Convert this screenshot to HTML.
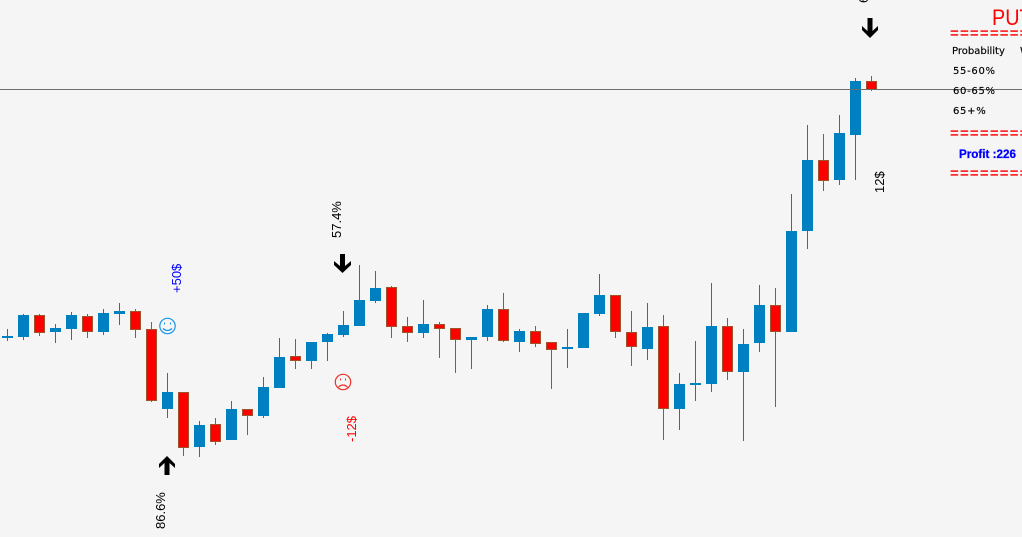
<!DOCTYPE html>
<html>
<head>
<meta charset="utf-8">
<title>Candlestick chart</title>
<style>
html,body{margin:0;padding:0;background:#f5f5f5;width:1022px;height:537px;overflow:hidden}
svg{display:block}
text{font-family:"Liberation Sans",sans-serif}
.vert{font-size:13px;fill:#000}
.small{font-family:"DejaVu Sans","Liberation Sans",sans-serif;font-size:10px;fill:#000;stroke:#000;stroke-width:.15px}
.sep{font-size:15px;fill:#f00;stroke:#f00;stroke-width:.3px;letter-spacing:1.2px}
</style>
</head>
<body>
<svg id="chart" width="1022" height="537" viewBox="0 0 1022 537" xmlns="http://www.w3.org/2000/svg">
  <rect width="1022" height="537" fill="#f5f5f5"/>
  <g id="candles"></g>
  <rect id="price-line" x="0" width="1022" height="1" fill="#6e6e6e"/>

  <text transform="translate(992 25) scale(.9 1)" font-size="22" fill="#f00">PUT</text>
  <text class="sep" x="950" y="38">=========</text>
  <text class="small" x="952" y="54">Probability</text>
  <text class="small" x="1020" y="54">W</text>
  <text class="small" x="953" y="74" letter-spacing=".7">55-60%</text>
  <text class="small" x="953" y="94" letter-spacing=".7">60-65%</text>
  <text class="small" x="953" y="114" letter-spacing=".7">65+%</text>
  <text class="sep" x="950" y="138">=========</text>
  <text x="959" y="158" font-size="12" font-weight="700" fill="#00f" stroke="#00f" stroke-width=".3" textLength="57" lengthAdjust="spacingAndGlyphs">Profit :226</text>
  <text class="sep" x="950" y="178">=========</text>

  <text class="vert" transform="translate(165 529) rotate(-90)">86.6%</text>
  <text class="vert" transform="translate(341 238) rotate(-90)">57.4%</text>
  <text class="vert" transform="translate(868 3) rotate(-90)">62.6%</text>
  <text class="vert" style="fill:#00f" transform="translate(181 293) rotate(-90)">+50$</text>
  <text class="vert" style="fill:#f00" transform="translate(356 442) rotate(-90)">-12$</text>
  <text class="vert" transform="translate(884 193) rotate(-90)">12$</text>

  <polygon fill="#000" points="167,456 175,464 175,468 169.5,463 169.5,475 164.5,475 164.5,463 159,468 159,464"/>
  <polygon fill="#000" points="342.5,273 351,265 351,261 345,266 345,254 340,254 340,266 334,261 334,265"/>
  <polygon fill="#000" points="870,38 878,30 878,26 872.5,31 872.5,18 867.5,18 867.5,31 862,26 862,30"/>

  <g fill="none" stroke="#1496e6" stroke-width="1.2">
    <circle cx="167.500" cy="326" r="7.7"/>
    <path d="M163 328.500q4.500 4 9 0"/>
    <rect x="164" y="322.500" width="1" height="2" fill="#1496e6" stroke="none"/>
    <rect x="170" y="322.500" width="1" height="2" fill="#1496e6" stroke="none"/>
  </g>
  <g fill="none" stroke="#f0302a" stroke-width="1.2">
    <circle cx="343" cy="382" r="7.7"/>
    <path d="M338.500 387q4.500 -4 9 0"/>
    <rect x="340" y="378.500" width="1" height="2" fill="#f0302a" stroke="none"/>
    <rect x="345" y="378.500" width="1" height="2" fill="#f0302a" stroke="none"/>
  </g>
</svg>
<script>
var opens = [119.9,120.0,122.2,120.5,120.8,122.1,120.5,122.3,122.6,120.8,112.8,114.5,109.0,111.3,109.7,112.8,112.1,114.9,118.1,117.6,119.5,120.2,121.1,123.6,125.0,121.1,120.4,121.3,120.9,119.7,120.0,122.8,119.5,120.6,119.5,118.8,118.9,122.3,124.2,120.5,118.8,121.1,112.8,115.2,115.3,121.1,116.5,119.4,123.2,120.5,130.6,137.7,135.7,140.2,145.6];
var highs = [120.8,122.3,122.3,121.3,122.5,122.3,122.8,123.4,122.8,121.5,116.4,114.5,111.6,111.9,113.6,112.8,116.0,119.9,119.8,119.5,120.4,122.6,127.2,126.6,125.1,122.0,123.7,121.5,120.9,120.0,123.2,124.4,120.8,121.1,119.5,120.8,122.4,126.3,124.2,122.6,123.4,122.2,116.4,119.6,125.4,121.9,120.8,125.2,124.9,134.3,141.2,140.3,142.2,145.9,146.1];
var lows = [119.6,119.7,120.1,119.4,119.7,119.9,120.2,121.2,119.9,113.5,111.9,108.1,108.0,109.2,109.7,110.2,111.9,114.9,116.8,116.8,117.6,120.0,121.1,123.4,119.9,119.5,119.9,117.9,116.4,116.8,119.6,119.5,118.5,119.0,114.8,116.9,118.9,122.1,119.9,117.1,117.7,109.7,110.7,113.6,114.5,115.7,109.6,118.5,113.0,120.5,128.8,134.6,135.2,135.7,144.6];
var closes = [120.1,122.2,120.4,120.9,122.2,120.5,122.4,122.6,120.7,113.6,114.5,108.9,111.2,109.5,112.8,112.1,115.0,118.0,117.6,119.5,120.3,121.2,123.7,124.9,121.0,120.4,121.3,120.8,119.7,120.0,122.8,119.6,120.6,119.3,118.7,119.0,122.4,124.2,120.5,119.0,121.0,112.8,115.3,115.4,121.1,116.5,119.3,123.2,120.5,130.6,137.7,135.6,140.4,145.6,144.7];
var currentPrice = [144.8];

var COLOR_UP = '#0080c0';
var COLOR_DOWN = '#ff0000';
var COLOR_EDGE = '#a0522d';
var SVG_NS = 'http://www.w3.org/2000/svg';

function xScale(i) { return 7 + 16 * i; }
function yScale(p) { return Math.round((153.7 - p) * 10); }

function makeRect(parent, x, y, w, h, color) {
  var el = document.createElementNS(SVG_NS, 'rect');
  el.setAttribute('x', x);
  el.setAttribute('y', y);
  el.setAttribute('width', w);
  el.setAttribute('height', h);
  el.setAttribute('fill', color);
  el.style.fill = color;
  parent.appendChild(el);
  return el;
}

function drawChart() {
  var root = document.getElementById('candles');
  root.setAttribute('shape-rendering', 'crispEdges');
  for (var i = 0; i < opens.length; i++) {
    var isUp = closes[i] >= opens[i];
    var cx = xScale(i);
    var bodyTop = yScale(Math.max(opens[i], closes[i]));
    var bodyBottom = yScale(Math.min(opens[i], closes[i]));
    var wickTop = yScale(highs[i]);
    var wickBottom = yScale(lows[i]);
    var edge = isUp ? COLOR_UP : COLOR_EDGE;

    var group = document.createElementNS(SVG_NS, 'g');
    
    
    root.appendChild(group);

    var wick = makeRect(group, cx, wickTop, 1, Math.max(wickBottom - wickTop, 1), edge);
    
    

    var bodyRect = makeRect(group, cx - 5, bodyTop, 11, Math.max(bodyBottom - bodyTop, 2), edge);
    
    

    if (!isUp) {
      var fillRect = makeRect(group, cx - 4, bodyTop + 1, 9, Math.max(bodyBottom - bodyTop - 2, 1), COLOR_DOWN);
      
      
    }
  }
  document.getElementById('price-line').setAttribute('y', yScale(currentPrice[0]));
}
drawChart();
</script>
</body>
</html>
